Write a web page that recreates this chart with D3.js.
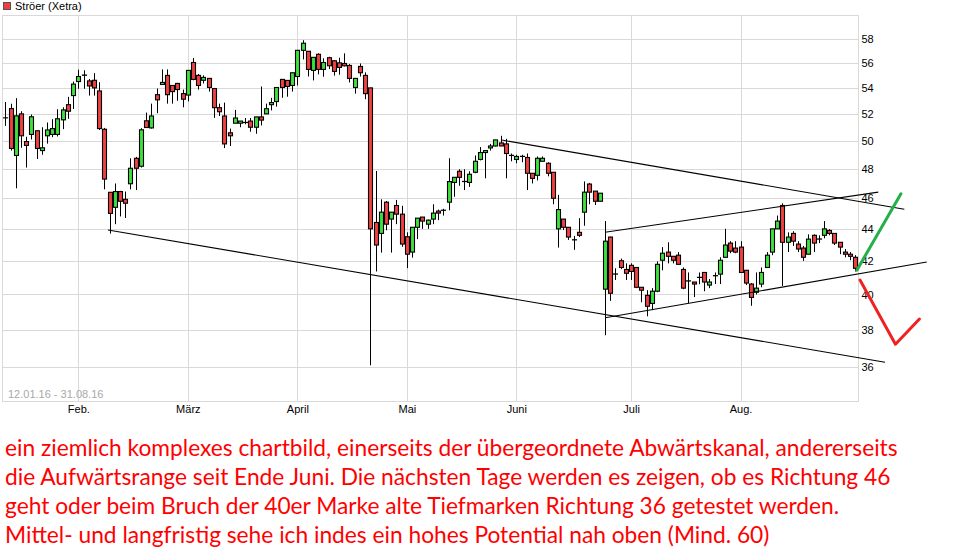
<!DOCTYPE html>
<html>
<head>
<meta charset="utf-8">
<script src="https://cdn.jsdelivr.net/npm/d3@7"></script>
<style>
html,body{margin:0;padding:0;background:#fff;}
svg{display:block;}
</style>
</head>
<body>
<svg id="chart" width="966" height="554"></svg>
<script>
// ---- DATA ----
const title = "Ströer (Xetra)";
const dateRange = "12.01.16 - 31.08.16";
const monthLabels = ["Feb.", "März", "April", "Mai", "Juni", "Juli", "Aug."];
const monthStartIdx = [14, 35, 56, 77, 98, 120, 141];
const yTicks = [36, 38, 40, 42, 44, 46, 48, 50, 52, 54, 56, 58];

const open = [51.7,52.4,48.95,52.0,49.95,50.47,50.74,49.3,50.37,50.47,50.47,51.55,52.7,53.4,54.5,55.0,54.55,54.6,53.76,50.85,
46.4,45.4,46.45,45.93,46.98,48.75,48.19,51.48,50.95,53.47,54.27,54.99,54.19,54.35,53.55,53.44,56.03,54.99,54.6,54.75,
53.95,52.47,51.84,50.59,51.3,51.3,51.35,51.46,51.0,51.77,52.0,52.7,52.94,54.67,54.59,54.19,54.9,57.03,56.95,55.39,
56.7,55.47,56.42,56.17,56.0,55.95,55.79,54.03,55.71,54.99,54.0,44.41,43.71,45.74,44.63,45.52,44.95,43.5,42.54,44.1,
44.76,44.3,44.63,45.15,45.2,45.74,47.07,47.84,47.13,47.07,47.77,48.67,49.16,49.49,49.63,49.85,49.78,48.95,48.67,48.88,
48.81,47.7,47.56,48.54,48.4,47.77,44.0,44.63,44.1,43.3,43.78,45.08,46.96,46.48,45.8,40.31,43.48,41.2,42.01,41.48,
41.73,41.6,40.42,39.95,39.48,40.19,42.04,42.54,42.28,42.35,41.48,40.79,40.73,41.0,41.3,40.55,41.1,41.2,42.22,43.1,
42.79,42.85,41.43,40.61,40.13,40.61,41.6,42.54,44.0,45.52,43.15,43.71,43.04,42.79,42.41,43.59,43.35,43.59,43.9,43.71,
43.15,42.54,42.41,42.22];
const high = [52.9,52.77,53.2,52.2,50.3,51.95,50.74,51.0,51.35,51.6,52.35,52.5,53.3,54.5,55.45,55.4,54.7,55.17,54.45,50.95,
46.4,47.0,46.5,46.45,48.75,48.85,50.93,52.1,52.78,53.95,55.47,55.47,54.2,54.4,53.87,55.39,56.4,55.1,54.99,54.75,
53.95,52.78,52.86,50.9,52.3,51.46,51.69,51.69,51.77,54.11,52.78,53.23,54.03,54.67,54.59,55.2,57.03,57.87,56.95,56.45,
56.78,56.37,56.5,56.2,56.42,56.78,55.9,54.75,55.95,55.23,54.0,47.86,45.93,45.82,45.08,45.89,45.5,43.78,44.1,44.69,
44.76,44.6,45.6,45.25,45.3,48.75,47.42,47.98,47.98,47.84,48.95,49.55,49.3,49.78,50.07,50.37,50.15,49.09,49.0,49.0,
49.09,47.7,48.88,48.88,48.47,47.77,46.23,44.63,44.1,43.55,44.69,47.14,47.04,46.48,46.34,44.5,43.5,41.55,42.14,41.85,
41.85,41.6,40.42,40.25,40.37,41.97,42.85,43.15,42.28,42.54,41.6,41.3,40.73,41.3,41.3,40.91,41.3,42.22,44.0,43.22,
43.22,43.22,41.43,40.67,41.3,41.6,42.54,44.0,44.86,45.66,43.78,43.85,43.22,42.92,43.65,43.65,43.59,44.5,43.98,43.71,
43.15,42.73,42.54,42.35];
const low = [51.1,49.3,46.67,49.5,48.1,50.1,48.7,49.0,49.8,50.27,50.32,50.86,51.63,52.37,53.93,53.93,53.4,53.4,50.8,46.6,
43.7,44.3,44.8,44.7,46.6,46.55,48.1,50.95,50.9,52.05,54.27,52.78,52.78,53.0,52.5,52.95,54.6,53.87,54.35,53.71,
51.7,51.84,49.48,49.63,51.3,51.0,51.22,50.67,50.52,51.13,52.0,52.26,52.55,53.23,53.31,53.71,54.19,56.28,54.9,54.59,
55.07,54.88,55.5,54.97,55.04,55.71,54.43,53.55,54.9,53.12,36.09,41.36,42.51,43.91,42.51,44.3,42.87,41.56,42.2,43.35,
44.0,44.0,44.3,44.56,44.86,45.2,46.1,46.84,46.55,46.77,47.7,48.6,47.35,49.3,49.6,49.63,47.35,48.54,48.4,48.47,
46.55,47.0,47.21,48.54,47.49,45.6,42.82,43.93,43.3,42.68,43.48,44.2,45.6,45.55,45.8,37.7,39.63,40.85,41.5,40.85,
40.85,40.37,39.55,38.75,39.1,40.13,41.43,41.85,41.85,41.79,40.31,39.5,39.85,40.6,40.19,40.37,40.61,40.61,42.22,42.47,
42.47,41.3,40.55,39.35,40.0,40.42,41.6,42.35,44.0,40.5,42.54,42.92,42.54,42.0,42.41,42.54,43.1,43.4,43.59,42.98,
42.41,42.22,42.04,41.36];
const close = [51.7,49.45,51.85,50.37,49.67,51.78,49.45,49.5,50.8,50.9,51.63,52.3,52.2,54.3,54.9,55.02,54.15,54.0,50.9,47.3,
45.0,46.45,45.8,45.67,48.05,48.05,50.81,50.98,51.84,53.07,54.43,53.47,53.71,53.87,53.12,55.39,54.67,54.19,54.83,54.03,
52.47,52.16,49.78,50.37,51.69,51.46,51.36,51.0,51.77,51.53,52.39,52.86,54.03,54.03,54.11,55.2,57.03,57.62,55.47,56.45,
55.47,56.03,55.76,55.31,55.63,55.76,54.75,54.75,55.2,53.55,44.0,42.98,45.08,44.3,45.08,44.95,43.04,42.41,44.1,44.69,
44.5,44.56,45.02,45.02,45.21,47.13,47.42,47.42,47.14,47.63,48.54,49.16,49.3,49.63,50.07,49.63,49.09,48.96,48.88,48.89,
47.7,47.35,48.75,48.75,47.7,46.0,45.25,44.1,43.48,43.31,43.59,46.41,46.41,45.8,46.34,43.22,40.07,41.21,41.6,41.25,
41.36,40.42,40.25,39.32,40.19,41.79,42.47,42.28,42.04,41.79,40.37,40.8,40.61,41.01,40.73,40.73,41.11,42.04,42.98,42.6,
42.54,41.3,40.67,39.83,40.37,41.3,42.35,44.0,44.5,43.15,43.48,43.22,42.73,42.22,43.35,43.1,43.36,44.0,43.71,43.1,
42.85,42.41,42.28,41.55];

// hand-drawn trend lines: [index, price] pairs
const lowerChannel = [[19.7, 43.93], [168.7, 36.25]];
const upperChannel = [[95.2, 50.06], [172.4, 45.27]];
const rangeUpper = [[115.0, 43.78], [167.4, 46.41]];
const rangeLower = [[115.05, 38.67], [176.7, 41.93]];
const greenArrow = [[163.3, 41.44], [171.75, 46.30]];
const redArrow = [[163.9, 40.85], [170.7, 37.21], [175.3, 38.6]];

const commentLines = [
  "ein ziemlich komplexes chartbild, einerseits der übergeordnete Abwärtskanal, andererseits",
  "die Aufwärtsrange seit Ende Juni. Die nächsten Tage werden es zeigen, ob es Richtung 46",
  "geht oder beim Bruch der 40er Marke alte Tiefmarken Richtung 36 getestet werden.",
  "Mittel- und langfristig sehe ich indes ein hohes Potential nah oben (Mind. 60)"
];

// ---- CHART ----
const svg = d3.select("#chart");
const plot = {left: 2.5, right: 858.5, top: 15.5, bottom: 401.5};
const gridColor = "#d9d9d9";
const axisFont = "'Liberation Sans', Arial, sans-serif";

const x = d3.scaleLinear().domain([0, open.length - 1]).range([5.3, 855.3]);
const y = d3.scaleLog().domain([36, 58]).range([367, 38.7]);

// clip for plot
svg.append("defs").append("clipPath").attr("id", "plotclip")
  .append("rect").attr("x", plot.left).attr("y", plot.top)
  .attr("width", plot.right - plot.left).attr("height", plot.bottom - plot.top);

// horizontal grid
svg.append("g").selectAll("line").data(yTicks).join("line")
  .attr("x1", plot.left).attr("x2", plot.right)
  .attr("y1", d => Math.round(y(d)) + 0.5).attr("y2", d => Math.round(y(d)) + 0.5)
  .attr("stroke", gridColor).attr("stroke-width", 1);

// vertical grid
svg.append("g").selectAll("line").data(monthStartIdx).join("line")
  .attr("x1", d => Math.round(x(d)) + 0.5).attr("x2", d => Math.round(x(d)) + 0.5)
  .attr("y1", plot.top).attr("y2", plot.bottom)
  .attr("stroke", gridColor).attr("stroke-width", 1);

// frame
svg.append("rect").attr("x", plot.left).attr("y", plot.top)
  .attr("width", plot.right - plot.left).attr("height", plot.bottom - plot.top)
  .attr("fill", "none").attr("stroke", gridColor);

// y axis labels (right)
const yAxis = d3.axisRight(y).tickValues(yTicks).tickFormat(d3.format("d")).tickSize(0).tickPadding(0);
const yg = svg.append("g").attr("transform", `translate(${plot.right + 3},0)`).call(yAxis);
yg.select(".domain").remove();
yg.selectAll("text").attr("font-family", axisFont).attr("font-size", 11).attr("fill", "#000");

// x axis labels (months)
const xAxis = d3.axisBottom(x).tickValues(monthStartIdx)
  .tickFormat((d, i) => monthLabels[i]).tickSize(0).tickPadding(0);
const xg = svg.append("g").attr("transform", `translate(0,${plot.bottom + 3.5})`).call(xAxis);
xg.select(".domain").remove();
xg.selectAll("text").attr("font-family", axisFont).attr("font-size", 11).attr("fill", "#000");

// date range label
svg.append("text").attr("x", 8).attr("y", 398).text(dateRange)
  .attr("font-family", axisFont).attr("font-size", 11).attr("fill", "#a8a8a8");

// legend
svg.append("rect").attr("x", 3.5).attr("y", 2.5).attr("width", 7).attr("height", 7)
  .attr("fill", "#f04040").attr("stroke", "#555");
svg.append("text").attr("x", 15).attr("y", 10).text(title)
  .attr("font-family", axisFont).attr("font-size", 11).attr("fill", "#000");

// candles
const idx = d3.range(open.length);
const cg = svg.append("g").attr("clip-path", "url(#plotclip)");
cg.selectAll("line.wick").data(idx).join("line").attr("class", "wick")
  .attr("x1", i => Math.round(x(i)) + 0.5).attr("x2", i => Math.round(x(i)) + 0.5)
  .attr("y1", i => y(high[i])).attr("y2", i => y(low[i]))
  .attr("stroke", "#000").attr("stroke-width", 1);
cg.selectAll("rect.body").data(idx).join("rect").attr("class", "body")
  .attr("x", i => Math.round(x(i)) - 1.5)
  .attr("width", 4)
  .attr("y", i => Math.min(y(open[i]), y(close[i])))
  .attr("height", i => Math.max(0.01, Math.abs(y(open[i]) - y(close[i]))))
  .attr("fill", i => close[i] >= open[i] ? "#3ee03e" : "#f04141")
  .attr("stroke", "#000").attr("stroke-width", 1.1);

// trend lines
const line = d3.line().x(d => x(d[0])).y(d => y(d[1]));
const tl = svg.append("g");
[lowerChannel, upperChannel, rangeUpper, rangeLower].forEach(seg => {
  tl.append("path").attr("d", line(seg)).attr("fill", "none")
    .attr("stroke", "#000").attr("stroke-width", 1.1);
});
tl.append("path").attr("d", line(greenArrow)).attr("fill", "none")
  .attr("stroke", "#22b04a").attr("stroke-width", 3).attr("stroke-linecap", "round");
tl.append("path").attr("d", line(redArrow)).attr("fill", "none")
  .attr("stroke", "#ee2222").attr("stroke-width", 3).attr("stroke-linecap", "round")
  .attr("stroke-linejoin", "round");

// comment text
const baselines = [455.7, 485, 514.2, 543.4];
const tg = svg.append("g").attr("font-family", "Lato, 'Open Sans', sans-serif").attr("fill", "#ff0000");
const texts = tg.selectAll("text").data(commentLines).join("text")
  .attr("x", 5).attr("y", (d, i) => baselines[i]).attr("font-size", 21).text(d => d);
const w0 = texts.nodes()[0].getComputedTextLength();
const fs = 21 * 893 / w0;
texts.attr("font-size", fs);
</script>
</body>
</html>
